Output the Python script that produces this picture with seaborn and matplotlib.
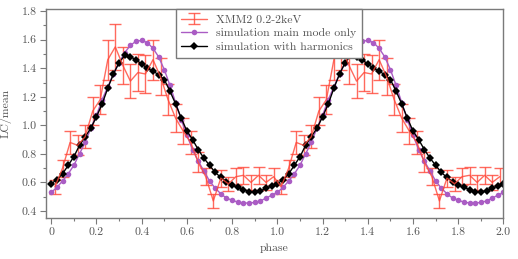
import matplotlib
matplotlib.use("Agg")
import matplotlib.pyplot as plt
from matplotlib.ticker import MultipleLocator
import seaborn as sns
import pandas as pd
import numpy as np

# --- data (one cycle, repeated twice over phase 0-2) ---
xmm_vals = [0.57, 0.70, 0.88, 0.86, 0.92, 1.10, 1.18, 1.46, 1.55, 1.42,
            1.31, 1.37, 1.36, 1.46, 1.34, 1.18, 1.05, 0.96, 0.88, 0.74,
            0.64, 0.47, 0.63, 0.59, 0.64, 0.65, 0.60, 0.65, 0.60, 0.64]
xmm_err = [0.05, 0.06, 0.08, 0.07, 0.08, 0.10, 0.10, 0.14, 0.16, 0.13,
           0.12, 0.13, 0.13, 0.14, 0.13, 0.11, 0.10, 0.09, 0.08, 0.07,
           0.06, 0.05, 0.06, 0.05, 0.06, 0.06, 0.05, 0.06, 0.05, 0.06]

main_mode = [0.53, 0.565, 0.61, 0.66, 0.72, 0.80, 0.88, 0.98, 1.07, 1.18,
             1.27, 1.36, 1.44, 1.51, 1.56, 1.59, 1.595, 1.58, 1.54, 1.48,
             1.39, 1.28, 1.16, 1.04, 0.93, 0.83, 0.75, 0.68, 0.61, 0.56,
             0.52, 0.49, 0.475, 0.462, 0.456, 0.455, 0.46, 0.47, 0.49, 0.51]

harmonics = [0.59, 0.62, 0.66, 0.72, 0.78, 0.86, 0.92, 0.98, 1.06, 1.15,
             1.26, 1.36, 1.44, 1.49, 1.48, 1.46, 1.43, 1.40, 1.38, 1.355,
             1.32, 1.24, 1.15, 1.05, 0.96, 0.90, 0.83, 0.77, 0.72, 0.67,
             0.635, 0.605, 0.58, 0.565, 0.55, 0.535, 0.535, 0.54, 0.56, 0.575]

n_bins = len(xmm_vals)
n_sim = len(main_mode)
xmm_phase = np.concatenate([(np.arange(n_bins) + 0.5) / n_bins,
                            1 + (np.arange(n_bins) + 0.5) / n_bins])
xmm_y = np.array(xmm_vals * 2)
xmm_e = np.array(xmm_err * 2)

sim = pd.DataFrame({
    "phase": np.arange(2 * n_sim + 1) / n_sim,
    "main": main_mode * 2 + [main_mode[0]],
    "harm": harmonics * 2 + [harmonics[0]],
})

# --- style ---
sns.set_theme(style="ticks")
plt.rcParams['font.family'] = ['cmr10', 'DejaVu Serif']
plt.rcParams['axes.formatter.use_mathtext'] = True
plt.rcParams['mathtext.fontset'] = 'cm'
grey = '#7a7a7a'
txt = '#555555'

fig = plt.figure(figsize=(5.18, 2.59), dpi=100)
ax = fig.add_axes([0.088, 0.158, 0.884, 0.807])

red = '#ff4536'
ax.errorbar(xmm_phase, xmm_y, yerr=xmm_e, color=red, lw=1.0, elinewidth=1.0,
            capsize=4, capthick=1.0, alpha=0.8, label='XMM2 0.2-2keV')
sns.lineplot(data=sim, x="phase", y="main", ax=ax, color='#aa5cc4', lw=1.0,
             marker='o', markersize=4, markeredgewidth=0,
             label='simulation main mode only')
sns.lineplot(data=sim, x="phase", y="harm", ax=ax, color='black', lw=1.0,
             marker='D', markersize=3.8, markeredgewidth=0,
             label='simulation with harmonics')

ax.set_xlim(-0.025, 2.0)
ax.set_ylim(0.35, 1.815)
ax.xaxis.set_major_locator(MultipleLocator(0.2))
ax.xaxis.set_minor_locator(MultipleLocator(0.1))
ax.yaxis.set_major_locator(MultipleLocator(0.2))
ax.yaxis.set_minor_locator(MultipleLocator(0.1))
ax.xaxis.set_major_formatter(matplotlib.ticker.FuncFormatter(lambda v, p: f"{v:g}" if v == 0 else f"{v:.1f}"))
ax.yaxis.set_major_formatter(matplotlib.ticker.FuncFormatter(lambda v, p: f"{v:.1f}"))
ax.tick_params(which='major', length=4, width=0.8, colors=grey, labelcolor=txt,
               labelsize=8.5, pad=2.5)
ax.tick_params(which='minor', length=2.5, width=0.8, colors=grey)
for s in ax.spines.values():
    s.set_color(grey)
    s.set_linewidth(1.0)

ax.set_xlabel("phase", color=txt, fontsize=8.5, labelpad=5)
ax.set_ylabel("LC/mean", color=txt, fontsize=8.5, labelpad=7)

handles, labels = ax.get_legend_handles_labels()
order = [labels.index('XMM2 0.2-2keV'), labels.index('simulation main mode only'),
         labels.index('simulation with harmonics')]
leg = ax.legend([handles[i] for i in order], [labels[i] for i in order],
                loc='upper left', bbox_to_anchor=(0.284, 1.0), borderaxespad=0,
                fancybox=False, framealpha=1, edgecolor=grey, fontsize=8.5,
                handlelength=2.2, labelspacing=0.3, borderpad=0.45)
for t in leg.get_texts():
    t.set_color(txt)

fig.savefig("out.png", dpi=100)
